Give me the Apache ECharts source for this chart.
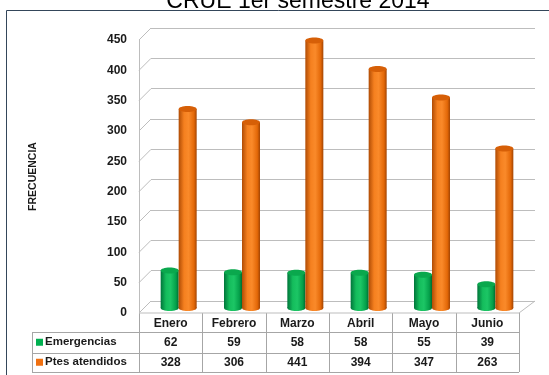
<!DOCTYPE html>
<html><head><meta charset="utf-8">
<script src="https://cdn.jsdelivr.net/npm/echarts@6/dist/echarts.min.js"></script>
<style>html,body{margin:0;padding:0;background:#fff}#c{width:549px;height:375px}</style>
</head><body><div id="c"></div>
<script>
const titleText = 'CRUE 1er semestre 2014';
const categories = ['Enero','Febrero','Marzo','Abril','Mayo','Junio'];
const seriesNames = ['Emergencias','Ptes atendidos'];
const emergencias = [62,59,58,58,55,39];
const ptesAtendidos = [328,306,441,394,347,263];
const yTicks = [0,50,100,150,200,250,300,350,400,450];
const axisName = 'FRECUENCIA';

const FONT = '"Liberation Sans", Arial, sans-serif';
const W = 549, H = 375;
const G = {left:139, right:30, top:40, bottom:62};
const D = {dx:12, dy:-12};   // depth of the 3D box
const BAR = {dx:8, dy:-5, w:18};
const gridColor = '#bdbdbd';
const tableColor = '#a6a6a6';
const colors = ['#00b050','#f07010'];

const chart = echarts.init(document.getElementById('c'), null, {renderer:'canvas'});

function cylinder(seriesIdx, grads, topColor){
  return function(params, api){
    const i = api.value(0), v = api.value(1);
    const b = api.coord([i, 0]);
    const t = api.coord([i, v]);
    const x = b[0] + BAR.dx + (seriesIdx === 0 ? -BAR.w : 0);
    const yb = b[1] + BAR.dy, yt = t[1] + BAR.dy;
    const fill = {type:'linear', x:0, y:0, x2:1, y2:0, colorStops:grads};
    return {type:'group', children:[
      {type:'ellipse', shape:{cx:x+BAR.w/2, cy:yb, rx:BAR.w/2, ry:3}, style:{fill:fill}},
      {type:'rect', shape:{x:x, y:yt, width:BAR.w, height:yb-yt}, style:{fill:fill}},
      {type:'ellipse', shape:{cx:x+BAR.w/2, cy:yt, rx:BAR.w/2, ry:3}, style:{fill:topColor}}
    ]};
  };
}
const greenGrad = [{offset:0,color:'#00753a'},{offset:0.3,color:'#14bd5c'},{offset:0.55,color:'#1cc665'},{offset:0.85,color:'#04a04a'},{offset:1,color:'#006b30'}];
const orangeGrad = [{offset:0,color:'#b04c05'},{offset:0.3,color:'#f5801f'},{offset:0.55,color:'#fa8a2a'},{offset:0.85,color:'#e36808'},{offset:1,color:'#a24403'}];

const plotW = W - G.left - G.right;
const colW = plotW / categories.length;
const floorY = H - G.bottom;
const rowH = [19, 20.5, 19.5];
const row1 = floorY + rowH[0], row2 = row1 + rowH[1], row3 = row2 + rowH[2];
const tableLeft = 32;

const graphics = [];
// frame
graphics.push({type:'rect', shape:{x:6.5, y:10.5, width:560, height:400}, style:{fill:null, stroke:'#34465a', lineWidth:1}, z:0});
// title
graphics.push({type:'text', x:298, y:13, style:{text:titleText, font:'23px '+FONT, fill:'#000', align:'center', verticalAlign:'bottom'}, z:10});
// table lines
[row1, row2, row3].forEach(y => graphics.push({type:'line', shape:{x1:tableLeft, y1:Math.round(y)+0.5, x2:G.left+plotW, y2:Math.round(y)+0.5}, style:{stroke:tableColor, lineWidth:1}}));
graphics.push({type:'line', shape:{x1:tableLeft+0.5, y1:row1, x2:tableLeft+0.5, y2:row3}, style:{stroke:tableColor, lineWidth:1}});
for (let k = 0; k <= categories.length; k++) {
  const x = Math.round(G.left + colW*k) + 0.5;
  graphics.push({type:'line', shape:{x1:x, y1:floorY, x2:x, y2:row3}, style:{stroke:tableColor, lineWidth:1}});
}
// legend keys
seriesNames.forEach((n, s) => {
  const yc = s === 0 ? (row1+row2)/2 : (row2+row3)/2;
  graphics.push({type:'rect', shape:{x:36, y:yc-3.5, width:7, height:7}, style:{fill:colors[s]}});
  graphics.push({type:'text', x:45, y:yc, style:{text:n, font:'bold 11.5px '+FONT, fill:'#1a1a1a', verticalAlign:'middle'}});
});

const option = {
  animation:false,
  backgroundColor:'#fff',
  grid:[
    {left:G.left, right:G.right, top:G.top, bottom:G.bottom},
    {left:G.left+D.dx, right:G.right-D.dx-4, top:G.top+D.dy, bottom:G.bottom-D.dy}
  ],
  xAxis:[
    {type:'category', gridIndex:0, data:categories, axisLine:{show:false}, axisTick:{show:false},
     axisLabel:{margin:5, color:'#1a1a1a', fontFamily:FONT, fontWeight:'bold', fontSize:12}},
    {type:'category', gridIndex:1, data:categories, show:false}
  ],
  yAxis:[
    {type:'value', gridIndex:0, min:0, max:450, interval:50,
     axisLine:{show:true, lineStyle:{color:gridColor}}, axisTick:{show:false}, splitLine:{show:false},
     axisLabel:{margin:12, color:'#1a1a1a', fontFamily:FONT, fontWeight:'bold', fontSize:12},
     name:axisName, nameLocation:'middle', nameRotate:90, nameGap:100,
     nameTextStyle:{fontFamily:FONT, fontWeight:'bold', fontSize:10.5, color:'#1a1a1a'}},
    {type:'value', gridIndex:1, min:0, max:450, interval:50,
     axisLine:{show:false}, axisTick:{show:false}, axisLabel:{show:false},
     splitLine:{show:true, lineStyle:{color:gridColor, width:1}}}
  ],
  series:[
    {type:'custom', xAxisIndex:0, yAxisIndex:0, name:'walls', silent:true, z:1,
     data:yTicks.map(v => [0, v]),
     renderItem:function(params, api){
       const v = api.value(1);
       const p = api.coord([0, v]);
       const x0 = params.coordSys.x, x1 = params.coordSys.x + params.coordSys.width;
       const ch = [{type:'line', shape:{x1:x0, y1:p[1], x2:x0+D.dx, y2:p[1]+D.dy}, style:{stroke:gridColor, lineWidth:1}}];
       if (v === 0) {
         ch.push({type:'line', shape:{x1:x1, y1:p[1], x2:x1+D.dx+4, y2:p[1]+D.dy}, style:{stroke:gridColor, lineWidth:1}});
         ch.push({type:'line', shape:{x1:x0, y1:p[1], x2:x1, y2:p[1]}, style:{stroke:gridColor, lineWidth:1}});
       }
       return {type:'group', children:ch};
     }},
    {type:'custom', name:seriesNames[0], xAxisIndex:0, yAxisIndex:0, z:3,
     data:emergencias.map((v,i)=>[i,v]), renderItem:cylinder(0, greenGrad, '#0aa84d')},
    {type:'custom', name:seriesNames[1], xAxisIndex:0, yAxisIndex:0, z:3,
     data:ptesAtendidos.map((v,i)=>[i,v]), renderItem:cylinder(1, orangeGrad, '#d65f07')},
    {type:'custom', name:'table', xAxisIndex:0, yAxisIndex:0, silent:true, z:4,
     data:categories.map((c,i)=>[i, emergencias[i], ptesAtendidos[i]]),
     renderItem:function(params, api){
       const p = api.coord([api.value(0), 0]);
       return {type:'group', children:[
         {type:'text', x:p[0], y:(row1+row2)/2, style:{text:String(api.value(1)), font:'bold 12px '+FONT, fill:'#1a1a1a', align:'center', verticalAlign:'middle'}},
         {type:'text', x:p[0], y:(row2+row3)/2, style:{text:String(api.value(2)), font:'bold 12px '+FONT, fill:'#1a1a1a', align:'center', verticalAlign:'middle'}}
       ]};
     }}
  ],
  graphic:graphics
};
chart.setOption(option);
</script></body></html>
